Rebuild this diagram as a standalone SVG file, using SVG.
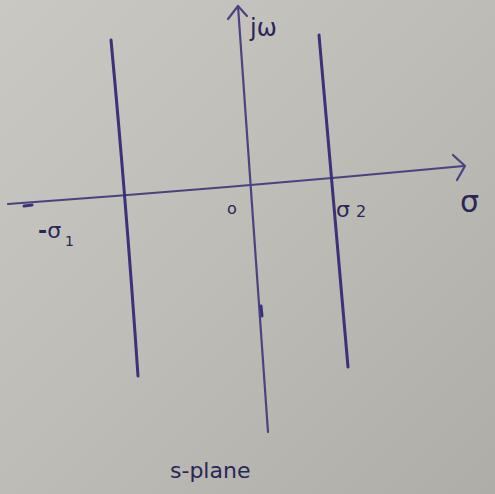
<svg xmlns="http://www.w3.org/2000/svg" width="495" height="494" viewBox="0 0 495 494">
<defs>
<linearGradient id="bg" x1="0" y1="0" x2="1" y2="1">
<stop offset="0" stop-color="#c9c8c3"/>
<stop offset="0.5" stop-color="#bdbcb7"/>
<stop offset="1" stop-color="#aeada8"/>
</linearGradient>
<style>
.ln{fill:none;stroke:#3b3278;stroke-width:3;stroke-linecap:round;stroke-linejoin:round}
.ax{fill:none;stroke:#4a4380;stroke-width:2.2;stroke-linecap:round;stroke-linejoin:round}
.t{font-family:"DejaVu Sans",sans-serif;fill:#2a2656}
</style>
</defs>
<rect width="495" height="494" fill="url(#bg)"/>
<g id="axes">
<path class="ax" d="M8,204 Q230,188 464,166"/>
<path class="ax" d="M453,155 L465,166 L457,180"/>
<path class="ax" d="M238,6 Q252,200 268,432"/>
<path class="ax" d="M228,19 L238,6 L247,16"/>
<path class="ln" d="M24,206 L32,205" stroke-width="4"/>
<path class="ln" d="M261,306 L262,316" stroke-width="4"/>
</g>
<g id="lines">
<path class="ln" d="M111,40 Q126,200 138,376"/>
<path class="ln" d="M319,35 Q334,200 348,367"/>
</g>
<g id="labels">
<text class="t" x="250" y="36" font-size="24">jω</text>
<text class="t" x="227" y="214" font-size="16">o</text>
<text class="t" x="336" y="217" font-size="22">σ<tspan font-size="16" dx="6" dy="0">2</tspan></text>
<text class="t" x="460" y="212" font-size="30">σ</text>
<text class="t" x="38" y="238" font-size="22"><tspan font-weight="bold">-</tspan>σ<tspan font-size="14" dx="4" dy="8">1</tspan></text>
<text class="t" x="170" y="478" font-size="22">s-plane</text>
</g>
</svg>
